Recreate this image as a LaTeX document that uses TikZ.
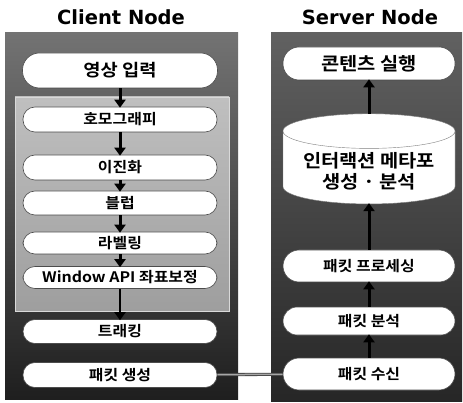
\documentclass[tikz,border=0pt]{standalone}
\usepackage{fontspec}
\setmainfont{Noto Sans CJK KR}[BoldFont={Noto Sans CJK KR Bold}, FakeStretch=1.1]
\newfontfamily\titlefont{DejaVu Sans}[BoldFont={DejaVu Sans Bold}]
\usetikzlibrary{arrows.meta,shapes.geometric}
\tikzset{
  pill/.style={draw=black!70, line width=0.6pt, fill=white, rounded corners=#1, align=center, font=\bfseries},
  pill/.default=12pt,
  flow/.style={line width=3pt, draw=black, -{Triangle[width=11pt,length=8pt]}, shorten >=-1pt},
  title/.style={font=\titlefont\bfseries\fontsize{19.5}{22}\selectfont},
  small/.style={font=\bfseries\fontsize{14.5}{16}\selectfont},
}
\begin{document}
\begin{tikzpicture}[x=1pt,y=-1pt]
\useasboundingbox (0,0) rectangle (463,403);
\fill[white] (0,0) rectangle (463,403);
% titles
\node[title] (tc) at (121,17) {Client Node};
\node[title] (ts) at (370,17) {Server Node};
% panels
\shade[top color=black!55, bottom color=black!88] (5,33) rectangle (238,399);
\shade[top color=black!62, bottom color=black!85] (271,33) rectangle (462,401);
\shade[top color=black!25, bottom color=black!38, draw=black!15] (15,97) rectangle (229,311);
% left column
\node[pill=17pt, minimum width=195pt, minimum height=35pt, font=\bfseries\fontsize{17}{19}\selectfont] (a1) at (120,70.5) {영상 입력};
\node[pill, minimum width=194pt, minimum height=25pt, small] (a2) at (120,119.5) {호모그래피};
\node[pill, minimum width=194pt, minimum height=25pt, small] (a3) at (120,167.5) {이진화};
\node[pill, minimum width=194pt, minimum height=24pt, small] (a4) at (120,203) {블럽};
\node[pill, minimum width=194pt, minimum height=22pt, small] (a5) at (120,243) {라벨링};
\node[pill, minimum width=194pt, minimum height=22pt, small, inner sep=1pt] (a6) at (120,277.5) {Window API 좌표보정};
\node[pill, minimum width=194pt, minimum height=24pt, small] (a7) at (120,331.5) {트래킹};
\node[pill, minimum width=194pt, minimum height=25pt, small] (a8) at (120,375) {패킷 생성};
% right column
\node[pill=16pt, minimum width=172pt, minimum height=33pt, font=\bfseries\fontsize{18}{20}\selectfont] (b1) at (369,63.5) {콘텐츠 실행};
\node[cylinder, shape border rotate=90, draw=black!50, fill=white, aspect=0.25, minimum width=172pt, minimum height=84pt, align=center, font=\bfseries\fontsize{18}{21}\selectfont, text depth=0pt] (b2) at (369,170) {인터랙션 메타포\\생성 · 분석};
\node[pill=16pt, minimum width=172pt, minimum height=32pt, small] (b3) at (369,266) {패킷 프로세싱};
\node[pill=14pt, minimum width=172pt, minimum height=28pt, small] (b4) at (369,321) {패킷 분석};
\node[pill=16pt, minimum width=172pt, minimum height=32pt, small] (b5) at (369,374) {패킷 수신};
% arrows left
\draw[flow] (a1) -- (a2);
\draw[flow] (a2) -- (a3);
\draw[flow] (a3) -- (a4);
\draw[flow] (a4) -- (a5);
\draw[flow] (a5) -- (a6);
\draw[flow, line width=2pt] (a6) -- (a7);
% arrows right
\draw[flow] (b5) -- (b4);
\draw[flow] (b4) -- (b3);
\draw[flow] (b3) -- (b2);
\draw[flow] (b2) -- (b1);
% link
\draw[draw=black!75, double=black!35, double distance=1.5pt, line width=0.8pt] (a8) -- (b5);
\end{tikzpicture}
\end{document}
